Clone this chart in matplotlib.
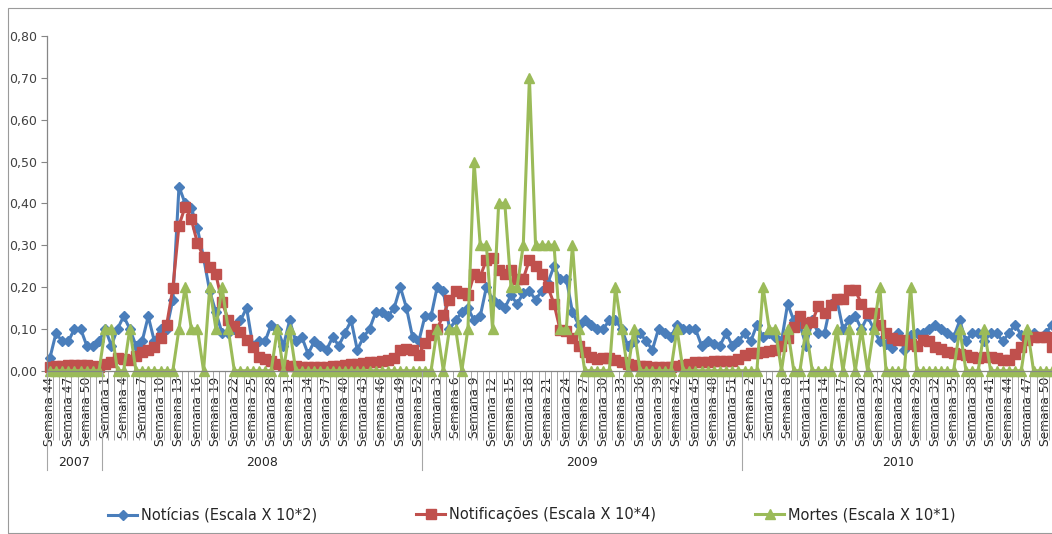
import matplotlib
matplotlib.use("Agg")
import matplotlib.pyplot as plt
import matplotlib.transforms as mtransforms
from matplotlib.patches import Rectangle

# categories: year groups and their week numbers
years = ["2007", "2008", "2009", "2010"]
weeks_per_year = [list(range(44, 53)), list(range(1, 53)), list(range(1, 53)), list(range(1, 52))]

# series values (one per week)
noticias = [
    0.03, 0.09, 0.07, 0.07, 0.10, 0.10, 0.06, 0.06, 0.07,
    0.10, 0.06, 0.10, 0.13, 0.10, 0.06, 0.07, 0.13, 0.07, 0.10, 0.10, 0.17, 0.44, 0.40,
    0.39, 0.34, 0.27, 0.19, 0.14, 0.09, 0.09, 0.10, 0.12, 0.15, 0.06, 0.07, 0.07, 0.11,
    0.10, 0.06, 0.12, 0.07, 0.08, 0.04, 0.07, 0.06, 0.05, 0.08, 0.06, 0.09, 0.12, 0.05,
    0.08, 0.10, 0.14, 0.14, 0.13, 0.15, 0.20, 0.15, 0.08, 0.07,
    0.13, 0.13, 0.20, 0.19, 0.10, 0.12, 0.14, 0.15, 0.12, 0.13, 0.20, 0.17, 0.16, 0.15,
    0.18, 0.16, 0.185, 0.19, 0.17, 0.19, 0.21, 0.25, 0.22, 0.22, 0.14, 0.11, 0.12, 0.11,
    0.10, 0.10, 0.12, 0.12, 0.10, 0.06, 0.07, 0.09, 0.07, 0.05, 0.10, 0.09, 0.08, 0.11,
    0.10, 0.10, 0.10, 0.06, 0.07, 0.065, 0.06, 0.09, 0.06, 0.07,
    0.09, 0.07, 0.11, 0.08, 0.09, 0.08, 0.07, 0.16, 0.12, 0.11, 0.06, 0.12, 0.09, 0.09,
    0.16, 0.17, 0.10, 0.12, 0.13, 0.10, 0.13, 0.10, 0.07, 0.065, 0.055, 0.09, 0.05, 0.085,
    0.09, 0.09, 0.10, 0.11, 0.10, 0.09, 0.08, 0.12, 0.07, 0.09, 0.09, 0.07, 0.09, 0.09,
    0.07, 0.09, 0.11, 0.085, 0.08, 0.09, 0.08, 0.09, 0.11,
]
notificacoes = [
    0.010, 0.012, 0.012, 0.013, 0.013, 0.014, 0.014, 0.012, 0.010,
    0.017, 0.020, 0.030, 0.027, 0.025, 0.035, 0.045, 0.050, 0.057, 0.077, 0.110, 0.197,
    0.347, 0.392, 0.362, 0.305, 0.272, 0.248, 0.230, 0.165, 0.122, 0.107, 0.093, 0.073,
    0.057, 0.033, 0.027, 0.022, 0.017, 0.014, 0.012, 0.011, 0.010, 0.010, 0.010, 0.010,
    0.010, 0.011, 0.012, 0.013, 0.015, 0.016, 0.018, 0.020, 0.020, 0.022, 0.025, 0.030,
    0.050, 0.053, 0.050, 0.037,
    0.067, 0.085, 0.100, 0.133, 0.170, 0.190, 0.185, 0.180, 0.230, 0.225, 0.265, 0.270,
    0.240, 0.230, 0.240, 0.220, 0.220, 0.265, 0.250, 0.230, 0.200, 0.160, 0.097, 0.095,
    0.077, 0.060, 0.045, 0.033, 0.027, 0.030, 0.030, 0.025, 0.020, 0.016, 0.013, 0.012,
    0.011, 0.010, 0.010, 0.010, 0.010, 0.012, 0.013, 0.017, 0.020, 0.020, 0.020, 0.022,
    0.022, 0.022, 0.022, 0.027,
    0.038, 0.042, 0.043, 0.045, 0.048, 0.050, 0.060, 0.077, 0.105, 0.130, 0.113, 0.117,
    0.155, 0.137, 0.157, 0.172, 0.172, 0.192, 0.192, 0.160, 0.137, 0.137, 0.110, 0.090,
    0.077, 0.073, 0.073, 0.065, 0.060, 0.073, 0.070, 0.057, 0.053, 0.045, 0.042, 0.040,
    0.037, 0.033, 0.030, 0.033, 0.033, 0.030, 0.025, 0.025, 0.040, 0.057, 0.073, 0.080,
    0.080, 0.080, 0.057,
]
mortes = [
    0.0, 0.0, 0.0, 0.0, 0.0, 0.0, 0.0, 0.0, 0.0,
    0.1, 0.1, 0.0, 0.0, 0.1, 0.0, 0.0, 0.0, 0.0, 0.0, 0.0, 0.0, 0.1, 0.2, 0.1, 0.1, 0.0,
    0.2, 0.1, 0.2, 0.1, 0.0, 0.0, 0.0, 0.0, 0.0, 0.0, 0.0, 0.1, 0.0, 0.1, 0.0, 0.0, 0.0,
    0.0, 0.0, 0.0, 0.0, 0.0, 0.0, 0.0, 0.0, 0.0, 0.0, 0.0, 0.0, 0.0, 0.0, 0.0, 0.0, 0.0,
    0.0,
    0.0, 0.0, 0.1, 0.0, 0.1, 0.1, 0.0, 0.1, 0.5, 0.3, 0.3, 0.1, 0.4, 0.4, 0.2, 0.2, 0.3,
    0.7, 0.3, 0.3, 0.3, 0.3, 0.1, 0.1, 0.3, 0.1, 0.0, 0.0, 0.0, 0.0, 0.0, 0.2, 0.1, 0.0,
    0.1, 0.0, 0.0, 0.0, 0.0, 0.0, 0.0, 0.1, 0.0, 0.0, 0.0, 0.0, 0.0, 0.0, 0.0, 0.0, 0.0,
    0.0,
    0.0, 0.0, 0.0, 0.2, 0.1, 0.1, 0.0, 0.1, 0.0, 0.0, 0.1, 0.0, 0.0, 0.0, 0.0, 0.1, 0.0,
    0.1, 0.0, 0.1, 0.0, 0.1, 0.2, 0.0, 0.0, 0.0, 0.0, 0.2, 0.0, 0.0, 0.0, 0.0, 0.0, 0.0,
    0.0, 0.1, 0.0, 0.0, 0.0, 0.1, 0.0, 0.0, 0.0, 0.0, 0.0, 0.0, 0.1, 0.0, 0.0, 0.0, 0.0,
]

plt.rcParams["font.family"] = ["DejaVu Sans"]

W, H = 1052, 534
fig = plt.figure(figsize=(W / 100, H / 100), dpi=100)
fig.patches.append(Rectangle((8 / W, 1.5 / H), 1.2, (H - 9.5) / H, transform=fig.transFigure,
                             fill=False, edgecolor="#9a9a9a", linewidth=0.8))

left_px, bottom_px, top_px = 46.8, 370.7, 36.0
ax = fig.add_axes([left_px / W, (H - bottom_px) / H, (W - left_px) / W, (bottom_px - top_px) / H])

x = list(range(len(noticias)))
l1, = ax.plot(x, noticias, color="#4A7EBB", lw=2.2, marker="D", ms=5.5, clip_on=False)
l2, = ax.plot(x, notificacoes, color="#C0504D", lw=2.2, marker="s", ms=7, clip_on=False)
l3, = ax.plot(x, mortes, color="#9BBB59", lw=2.2, marker="^", ms=7.5, clip_on=False)

ax.set_xlim(-0.5, len(x) - 1)
ax.set_ylim(0, 0.8)

for side in ["top", "right"]:
    ax.spines[side].set_visible(False)
for side in ["left", "bottom"]:
    ax.spines[side].set_color("#868686")
    ax.spines[side].set_linewidth(0.9)

yticks = [i / 10 for i in range(9)]
ax.set_yticks(yticks)
ax.set_yticklabels([f"{v:.2f}".replace(".", ",") for v in yticks])
ax.tick_params(axis="y", direction="out", length=4, width=0.8, color="#868686",
               labelsize=9, labelcolor="#404040", pad=3)

# week labels every third category, tick marks between every category
week_labels = [f"Semana {w}" for wk in weeks_per_year for w in wk]
ax.set_xticks(x[::3])
ax.set_xticklabels(week_labels[::3], rotation=90, va="top", ha="center")
ax.set_xticks([i + 0.5 for i in x[:-1]], minor=True)
ax.tick_params(axis="x", which="major", length=0, labelsize=8.8, labelcolor="#262626", pad=4)
ax.tick_params(axis="x", which="minor", direction="out", length=50, width=0.7, color="#a6a6a6")

# year groups
trans = mtransforms.blended_transform_factory(ax.transData, ax.transAxes)
sep_len = (470 - bottom_px) / (bottom_px - top_px)
label_y = -(462 - bottom_px) / (bottom_px - top_px)
start = 0
for year, wk in zip(years, weeks_per_year):
    ax.axvline(start - 0.5, ymin=-sep_len, ymax=0, clip_on=False, color="#a6a6a6", lw=0.8)
    ax.text(start + (len(wk) - 1) / 2, label_y, year, transform=trans, ha="center", va="center",
            fontsize=9, color="#262626")
    start += len(wk)

# legend entries placed like the original
legend_items = [
    (l1, "Notícias (Escala X 10*2)", 108),
    (l2, "Notificações (Escala X 10*4)", 416),
    (l3, "Mortes (Escala X 10*1)", 755),
]
for handle, text, xpos in legend_items:
    fig.legend([handle], [text], loc="center left", bbox_to_anchor=(xpos / W, (H - 515) / H),
               frameon=False, fontsize=10.5, handlelength=2.0, handletextpad=0.25, numpoints=1,
               borderpad=0, borderaxespad=0, labelcolor="#262626")

fig.savefig("out.png", dpi=100)
